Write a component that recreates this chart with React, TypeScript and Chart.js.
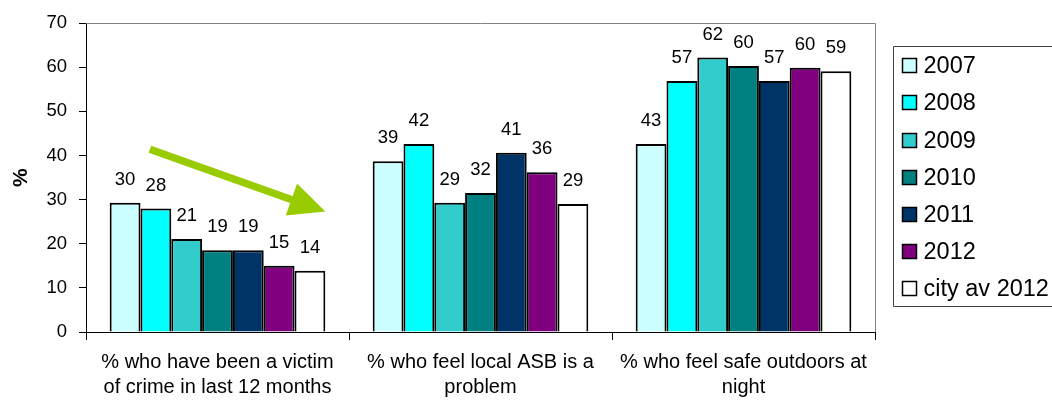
import React, { useEffect, useRef } from "react";
import { Chart, registerables } from "chart.js";
Chart.register(...registerables);

const FONT = "'Liberation Sans', Arial, Helvetica, sans-serif";

const categories = [
  ["% who have been a victim", "of crime in last 12 months"],
  ["% who feel local ASB is a", "problem"],
  ["% who feel safe outdoors at", "night"],
];
const seriesNames = ["2007", "2008", "2009", "2010", "2011", "2012", "city av 2012"];
const seriesColors = ["#CCFFFF", "#00FFFF", "#33CCCC", "#008080", "#003366", "#800080", "#FFFFFF"];

const v2007 = [29.3, 38.7, 42.6];
const v2008 = [28.0, 42.6, 56.9];
const v2009 = [21.1, 29.3, 62.2];
const v2010 = [18.5, 31.5, 60.3];
const v2011 = [18.5, 40.6, 56.9];
const v2012 = [15.0, 36.2, 59.9];
const vCity = [13.9, 29.0, 59.1];
const seriesValues = [v2007, v2008, v2009, v2010, v2011, v2012, vCity];

const l2007 = ["30", "39", "43"];
const l2008 = ["28", "42", "57"];
const l2009 = ["21", "29", "62"];
const l2010 = ["19", "32", "60"];
const l2011 = ["19", "41", "57"];
const l2012 = ["15", "36", "60"];
const lCity = ["14", "29", "59"];
const seriesLabels = [l2007, l2008, l2009, l2010, l2011, l2012, lCity];

const yTicks = [0, 10, 20, 30, 40, 50, 60, 70];

// trend arrow (in data coordinates: category index, value)
const arrowStart = { x: -0.257, y: 41.4 };
const arrowTip = { x: 0.41, y: 27.3 };

const framePlugin = {
  id: "frame",
  beforeDatasetsDraw(chart: any) {
    const { ctx, chartArea } = chart;
    const { left, top, right, bottom } = chartArea;
    ctx.save();
    ctx.strokeStyle = "#808080";
    ctx.lineWidth = 1;
    ctx.beginPath();
    ctx.moveTo(left, Math.round(top) + 0.5);
    ctx.lineTo(Math.round(right) + 0.5, Math.round(top) + 0.5);
    ctx.lineTo(Math.round(right) + 0.5, bottom);
    ctx.stroke();
    ctx.restore();
  },
};

const labelPlugin = {
  id: "barLabels",
  afterDatasetsDraw(chart: any) {
    const { ctx } = chart;
    ctx.save();
    ctx.fillStyle = "#000";
    ctx.font = `18.5px ${FONT}`;
    ctx.textAlign = "center";
    ctx.textBaseline = "middle";
    chart.data.datasets.forEach((ds: any, di: number) => {
      const meta = chart.getDatasetMeta(di);
      meta.data.forEach((bar: any, i: number) => {
        ctx.fillText(seriesLabels[di][i], bar.x, bar.y - 23);
      });
    });
    ctx.restore();
  },
};

const arrowPlugin = {
  id: "arrow",
  afterDatasetsDraw(chart: any) {
    const { ctx, scales } = chart;
    const x0 = scales.x.getPixelForValue(arrowStart.x);
    const y0 = scales.y.getPixelForValue(arrowStart.y);
    const x1 = scales.x.getPixelForValue(arrowTip.x);
    const y1 = scales.y.getPixelForValue(arrowTip.y);
    const ang = Math.atan2(y1 - y0, x1 - x0);
    const headLen = 36;
    const headHalf = 17;
    const bx = x1 - Math.cos(ang) * headLen;
    const by = y1 - Math.sin(ang) * headLen;
    ctx.save();
    ctx.strokeStyle = "#99CC00";
    ctx.fillStyle = "#99CC00";
    ctx.lineWidth = 7.5;
    ctx.lineCap = "butt";
    ctx.beginPath();
    ctx.moveTo(x0, y0);
    ctx.lineTo(bx + Math.cos(ang) * 2, by + Math.sin(ang) * 2);
    ctx.stroke();
    ctx.beginPath();
    ctx.moveTo(x1, y1);
    ctx.lineTo(bx + Math.sin(ang) * headHalf, by - Math.cos(ang) * headHalf);
    ctx.lineTo(bx - Math.sin(ang) * headHalf, by + Math.cos(ang) * headHalf);
    ctx.closePath();
    ctx.fill();
    ctx.restore();
  },
};

const legendPlugin = {
  id: "boxLegend",
  afterDraw(chart: any) {
    const { ctx } = chart;
    const boxLeft = 893.5;
    const boxTop = 46.5;
    const boxBottom = 306.5;
    const rowTop = 65.7;
    const rowStep = 37.17;
    const sqX = 902;
    const sq = 15;
    const textX = 923.5;
    ctx.save();
    ctx.strokeStyle = "#404040";
    ctx.lineWidth = 1;
    ctx.beginPath();
    ctx.moveTo(1060, boxTop);
    ctx.lineTo(boxLeft, boxTop);
    ctx.lineTo(boxLeft, boxBottom);
    ctx.lineTo(1060, boxBottom);
    ctx.stroke();
    ctx.font = `23.5px ${FONT}`;
    ctx.textAlign = "left";
    ctx.textBaseline = "middle";
    chart.data.datasets.forEach((ds: any, i: number) => {
      const cy = rowTop + i * rowStep;
      ctx.fillStyle = ds.backgroundColor;
      ctx.fillRect(sqX, Math.round(cy - sq / 2), sq, sq);
      ctx.strokeStyle = "#000";
      ctx.lineWidth = 1.5;
      ctx.strokeRect(sqX + 0.5, Math.round(cy - sq / 2) + 0.5, sq - 1, sq - 1);
      ctx.fillStyle = "#000";
      ctx.fillText(ds.label, textX, cy + 1);
    });
    ctx.restore();
  },
};

export default function App() {
  const ref = useRef<HTMLCanvasElement | null>(null);
  useEffect(() => {
    if (!ref.current) return;
    const chart = new Chart(ref.current, {
      type: "bar",
      data: {
        labels: categories as any,
        datasets: seriesNames.map((name, i) => ({
          label: name,
          data: seriesValues[i],
          backgroundColor: seriesColors[i],
          borderColor: "#000",
          borderWidth: 2,
          categoryPercentage: 0.82,
          barPercentage: 1.0,
        })),
      },
      options: {
        responsive: false,
        animation: false,
        events: [],
        layout: { padding: { left: 0, top: 19, right: 177, bottom: 0 } },
        plugins: {
          legend: { display: false },
          tooltip: { enabled: false },
          title: { display: false },
        },
        scales: {
          x: {
            ticks: {
              color: "#000",
              font: { size: 20, family: FONT, lineHeight: 1.25 },
              padding: 10,
              maxRotation: 0,
              autoSkip: false,
            },
            grid: { offset: true, drawOnChartArea: false, tickLength: 8, color: "#000" },
            border: { color: "#000", width: 1 },
            afterFit(s: any) {
              s.height = 68;
            },
          },
          y: {
            min: 0,
            max: 70,
            afterBuildTicks(s: any) {
              s.ticks = yTicks.map((v) => ({ value: v }));
            },
            ticks: { color: "#000", font: { size: 18.5, family: FONT }, padding: 12 },
            grid: { drawOnChartArea: false, tickLength: 7, color: "#000" },
            border: { color: "#000", width: 1 },
            title: {
              display: true,
              text: "%",
              color: "#000",
              font: { size: 21, weight: "bold", family: FONT },
              padding: { top: 9, bottom: 0 },
            },
            afterFit(s: any) {
              s.width = 86;
            },
          },
        },
      },
      plugins: [framePlugin, labelPlugin, arrowPlugin, legendPlugin],
    });
    return () => chart.destroy();
  }, []);
  return (
    <div style={{ position: "fixed", left: 0, top: 0, width: 1052, height: 400, background: "#fff" }}>
      <canvas ref={ref} width={1052} height={400} style={{ display: "block" }} />
    </div>
  );
}
